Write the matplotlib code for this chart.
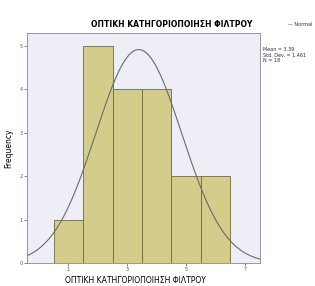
import numpy as np
import matplotlib.pyplot as plt

# histogram of the optical classification of the filter
bin_centers = [1, 2, 3, 4, 5, 6]
counts = [1, 5, 4, 4, 2, 2]
x_ticks = [1, 3, 5, 7]
x_tick_labels = ['1', '3', '5', '7']
y_ticks = [0, 1, 2, 3, 4, 5]

title = 'ΟΠΤΙΚΗ ΚΑΤΗΓΟΡΙΟΠΟΙΗΣΗ ΦΙΛΤΡΟΥ'

values = np.repeat(bin_centers, counts)
mean = values.mean()
sd = values.std(ddof=1)
n = len(values)

fig = plt.figure(figsize=(3.15, 2.86), dpi=100)
ax = fig.add_axes([0.086, 0.080, 0.739, 0.805])
ax.set_facecolor('#eeeef6')

ax.bar(bin_centers, counts, width=1.0, color='#d4cc8a', edgecolor='#6e6a3a', linewidth=0.6)

xs = np.linspace(-0.4, 7.5, 300)
ys = n * 1.0 / (sd * np.sqrt(2 * np.pi)) * np.exp(-0.5 * ((xs - mean) / sd) ** 2)
ax.plot(xs, ys, color='#6a6a6a', linewidth=0.8)

ax.set_xlim(-0.4, 7.5)
ax.set_ylim(0, 5.3)
ax.set_xticks(x_ticks)
ax.set_xticklabels(x_tick_labels)
ax.set_yticks(y_ticks)
ax.tick_params(labelsize=3.5, length=2, width=0.5, pad=1, colors='#555555')
for s in ax.spines.values():
    s.set_color('#888888')
    s.set_linewidth(0.6)

ax.set_title(title, fontsize=5.5, fontweight='bold', pad=4, x=0.62)
ax.set_xlabel(title, fontsize=5.5, labelpad=3, x=0.465)
ax.set_ylabel('Frequency', fontsize=5.5, labelpad=5)

fig.text(0.835, 0.835, 'Mean = %.2f\nStd. Dev. = %.3f\nN = %d' % (mean, sd, n),
         fontsize=3.5, va='top', ha='left', color='#333333', linespacing=1.1)
fig.text(0.915, 0.915, '— Normal', fontsize=3.5, va='center', ha='left', color='#333333')

fig.savefig('out.png', dpi=100)
